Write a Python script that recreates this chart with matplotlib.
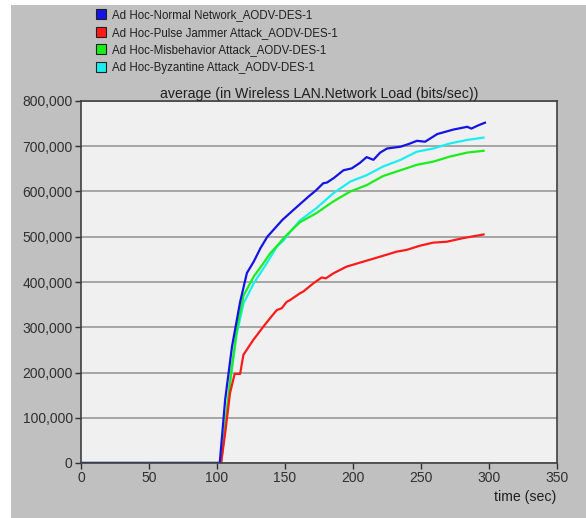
import matplotlib
matplotlib.use('Agg')
from matplotlib import pyplot as plt
from matplotlib.lines import Line2D
from matplotlib.patches import Rectangle
from matplotlib.ticker import FuncFormatter

plt.rcParams['font.family'] = ['Liberation Sans', 'DejaVu Sans']

# Ad Hoc-Normal Network
t_normal = [0, 102, 106, 111, 117, 122, 127, 132, 137, 148, 155, 161, 167, 173, 178, 181, 186,
            193, 199, 205, 210, 215, 220, 225, 235, 241, 247, 253, 262, 268, 274, 284, 287, 292, 297]
v_normal = [0, 0, 140000, 257000, 356000, 420000, 445000, 475000, 500000, 537000, 556000, 572000,
            588000, 603000, 618000, 620000, 630000, 647000, 651000, 663000, 676000, 670000, 686000,
            695000, 699000, 705000, 712000, 710000, 727000, 732000, 737000, 743000, 739000, 746000, 752000]

# Ad Hoc-Pulse Jammer Attack
t_jammer = [0, 103, 106, 109.6, 113, 117, 119.4, 126.7, 134, 139, 144, 147.6, 151.2, 153.7, 161,
            163.5, 170.8, 177, 180, 185.5, 195.3, 207.6, 220, 232, 239.5, 249, 259, 269, 281, 296]
v_jammer = [0, 0, 66000, 155000, 197000, 197000, 239000, 272000, 301000, 320000, 338000, 342000,
            356000, 360000, 375000, 379000, 397000, 410000, 408000, 419000, 434000, 445000, 456000,
            467000, 471000, 480000, 487000, 489000, 497000, 505000]

# Ad Hoc-Misbehavior Attack
t_misb = [0, 103, 110, 114.5, 119.5, 127, 134, 139, 146, 149, 155, 161, 173, 185, 198, 210, 222,
          235, 247, 259, 271, 284, 296]
v_misb = [0, 0, 191000, 294000, 370000, 412000, 441000, 463000, 486000, 497000, 515000, 532000,
          552000, 577000, 600000, 614000, 634000, 647000, 659000, 666000, 677000, 686000, 690000]

# Ad Hoc-Byzantine Attack
t_byz = [0, 103, 110, 114.5, 119.5, 127, 136.5, 144, 149, 155, 161, 173, 185.5, 198, 210, 222,
         235, 247, 259, 271, 284, 296]
v_byz = [0, 0, 185000, 285000, 353000, 397000, 441000, 478000, 492000, 515000, 536000, 563000,
         596000, 622000, 636000, 655000, 670000, 688000, 695000, 706000, 714000, 719000]

labels = ['Ad Hoc-Normal Network_AODV-DES-1',
          'Ad Hoc-Pulse Jammer Attack_AODV-DES-1',
          'Ad Hoc-Misbehavior Attack_AODV-DES-1',
          'Ad Hoc-Byzantine Attack_AODV-DES-1']
colors = ['#1414e6', '#ff1a1a', '#1aee1a', '#1aeeee']

fig = plt.figure(figsize=(5.86, 5.18), dpi=100, facecolor='white')
# grey panel behind everything (white strip left and top)
fig.patches.append(Rectangle((11 / 586, 0), 1 - 11 / 586, 513 / 518, transform=fig.transFigure,
                             facecolor='#c0c0c0', edgecolor='none', zorder=-10))

ax = fig.add_axes([81 / 586, 55 / 518, 476 / 586, 362 / 518])
ax.set_facecolor('#f0f0f0')

ax.plot(t_byz, v_byz, color=colors[3], lw=1.6)
ax.plot(t_misb, v_misb, color=colors[2], lw=1.6)
ax.plot(t_jammer, v_jammer, color=colors[1], lw=1.6)
ax.plot(t_normal, v_normal, color=colors[0], lw=1.6)

ax.set_xlim(0, 350)
ax.set_ylim(0, 800000)
ax.set_xticks(range(0, 351, 50))
ax.set_yticks(range(0, 800001, 100000))
ax.yaxis.set_major_formatter(FuncFormatter(lambda v, p: f'{int(v):,}'))
ax.yaxis.grid(True, color='#a0a0a0', lw=1.3)
ax.set_axisbelow(True)
ax.tick_params(direction='out', length=4, width=1, colors='#303030', labelsize=10, pad=2)
for s in ax.spines.values():
    s.set_color('#404040')
    s.set_linewidth(1.2)

ax.set_title('average (in Wireless LAN.Network Load (bits/sec))', fontsize=10.2, color='#202020', pad=2)
fig.text(556 / 586, 1 - 497 / 518, 'time (sec)', ha='right', va='center', fontsize=10.2, color='#202020')

handles = [Line2D([], [], ls='none', marker='s', markersize=7.5, markerfacecolor=c,
                  markeredgecolor='#202020', markeredgewidth=0.8) for c in colors]
fig.legend(handles, labels, loc='upper left', bbox_to_anchor=(95 / 586, 1 - 9 / 518), frameon=False,
           fontsize=8.3, handlelength=1.0, handletextpad=0.45, labelspacing=0.5, borderpad=0,
           borderaxespad=0, labelcolor='#202020')

fig.savefig('out.png', dpi=100, facecolor=fig.get_facecolor())
